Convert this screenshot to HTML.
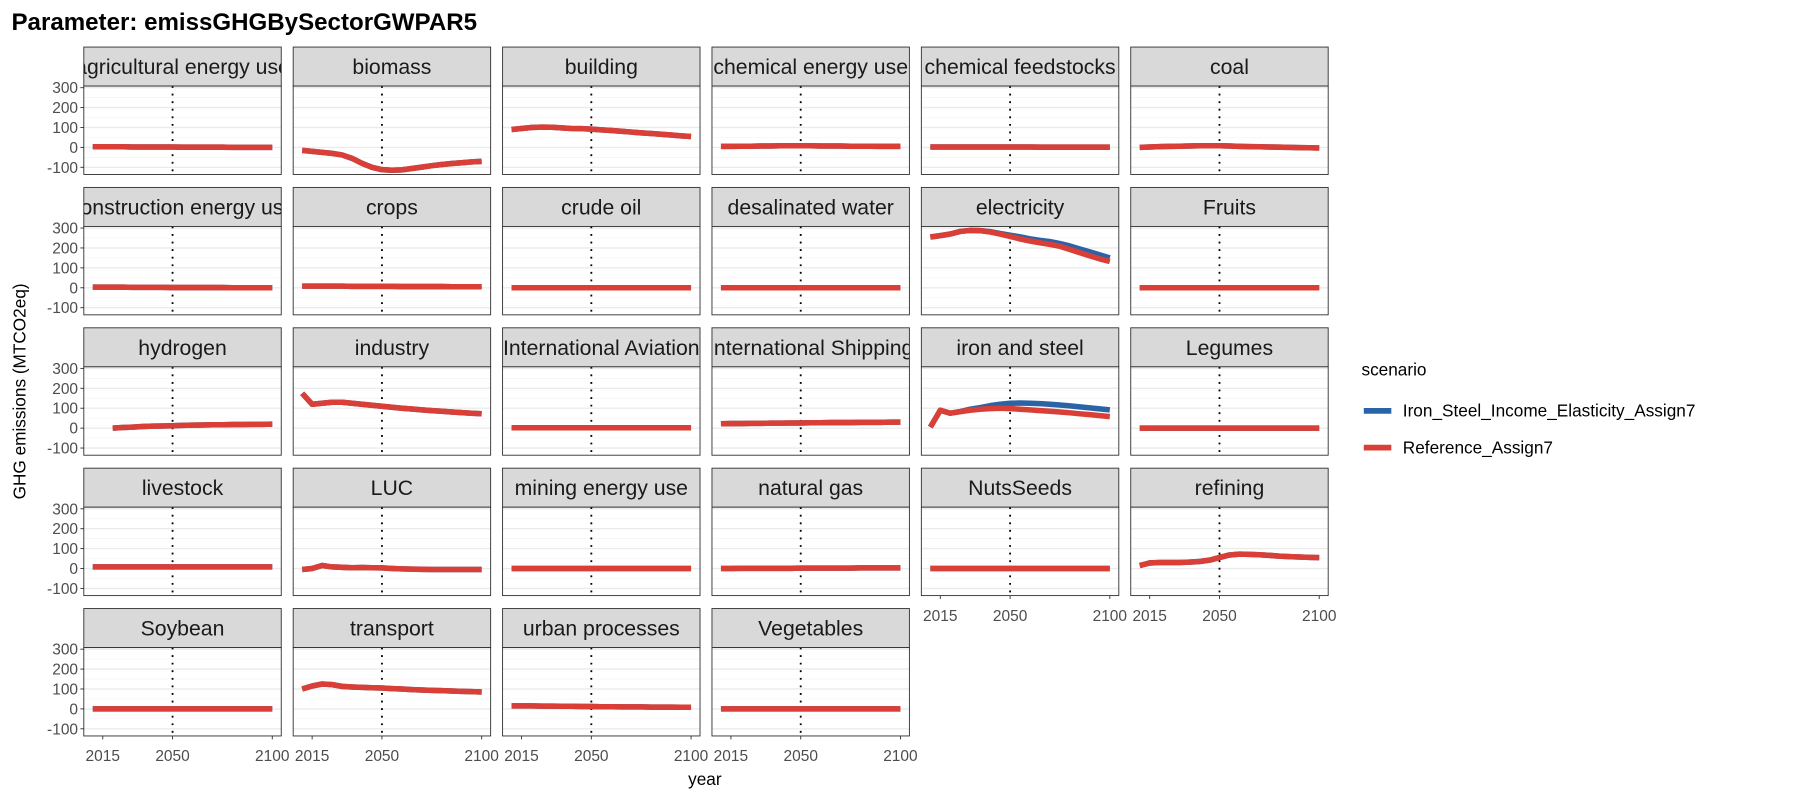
<!DOCTYPE html>
<html><head><meta charset="utf-8"><style>
html,body{margin:0;padding:0;background:#fff;}
svg{display:block;font-family:"Liberation Sans",sans-serif;}
</style></head><body>
<svg id="chart" width="1800" height="800" viewBox="0 0 1568 697" preserveAspectRatio="none" xmlns="http://www.w3.org/2000/svg">
<text x="10" y="26" font-size="21" font-weight="bold" fill="#000">Parameter: emissGHGBySectorGWPAR5</text>
<text transform="translate(22,341) rotate(-90)" text-anchor="middle" font-size="15" fill="#000">GHG emissions (MTCO2eq)</text>
<text x="614" y="684" text-anchor="middle" font-size="15" fill="#000">year</text>
<g>
<text x="1186" y="327" font-size="15" fill="#000">scenario</text>
<line x1="1188" x2="1212" y1="358" y2="358" stroke="#2b64a6" stroke-width="5"/>
<text x="1222" y="363" font-size="15" fill="#000">Iron_Steel_Income_Elasticity_Assign7</text>
<line x1="1188" x2="1212" y1="390" y2="390" stroke="#d93f36" stroke-width="5"/>
<text x="1222" y="395" font-size="15" fill="#000">Reference_Assign7</text>
</g>
<g id="panels"></g>
</svg>
<script>
const years = [2010,2015,2020,2025,2030,2035,2040,2045,2050,2055,2060,2065,2070,2075,2080,2085,2090,2095,2100];
const sectors = ["agricultural energy use","biomass","building","chemical energy use","chemical feedstocks","coal","construction energy use","crops","crude oil","desalinated water","electricity","Fruits","hydrogen","industry","International Aviation","International Shipping","iron and steel","Legumes","livestock","LUC","mining energy use","natural gas","NutsSeeds","refining","Soybean","transport","urban processes","Vegetables"];
const referenceValues = [
[3,3,3,3,2,2,2,2,2,1,1,1,1,1,0,0,0,0,0],
[-15,-20,-25,-30,-38,-55,-80,-100,-112,-115,-113,-106,-99,-92,-86,-81,-77,-73,-70],
[90,95,100,102,101,98,95,94,92,88,85,81,77,73,70,66,62,58,55],
[5,5,6,6,7,7,8,8,8,8,7,7,7,6,6,6,5,5,5],
[2,2,2,2,2,2,2,2,2,2,2,1,1,1,1,1,1,1,1],
[0,2,4,5,6,7,8,8,8,7,5,4,3,2,1,0,-1,-2,-3],
[3,3,3,3,2,2,2,2,1,1,1,1,1,1,0,0,0,0,0],
[8,8,8,8,8,7,7,7,7,7,6,6,6,6,6,5,5,5,5],
[0,0,0,0,0,0,0,0,0,0,0,0,0,0,0,0,0,0,0],
[0,0,0,0,0,0,0,0,0,0,0,0,0,0,0,0,0,0,0],
[255,262,270,283,288,287,280,270,258,245,235,226,218,208,192,176,160,145,132],
[0,0,0,0,0,0,0,0,0,0,0,0,0,0,0,0,0,0,0],
[null,null,0,3,5,8,10,11,12,14,15,16,17,17,18,18,19,19,20],
[175,120,125,130,130,125,120,115,110,105,100,96,92,88,85,81,78,75,72],
[2,2,2,2,2,2,2,2,2,2,2,2,2,2,2,2,2,2,2],
[22,23,23,24,24,25,25,26,26,27,27,28,28,28,29,29,29,30,30],
[5,90,75,83,90,95,98,100,98,95,92,88,85,81,77,72,68,63,58],
[0,0,0,0,0,0,0,0,0,0,0,0,0,0,0,0,0,0,0],
[8,8,8,8,8,8,8,8,8,8,8,8,8,8,8,8,8,8,8],
[-5,0,15,8,6,4,5,4,3,0,-2,-3,-4,-5,-5,-5,-5,-5,-5],
[0,0,0,0,0,0,0,0,0,0,0,0,0,0,0,0,0,0,0],
[0,0,1,1,1,1,1,1,2,2,2,2,2,2,3,3,3,3,3],
[0,0,0,0,0,0,0,0,0,0,0,0,0,0,0,0,0,0,0],
[15,28,30,30,30,32,35,42,55,68,72,71,69,66,62,60,58,56,55],
[0,0,0,0,0,0,0,0,0,0,0,0,0,0,0,0,0,0,0],
[100,115,125,122,113,110,108,106,105,102,100,97,95,93,92,90,88,87,85],
[15,15,15,14,14,13,13,12,12,11,11,10,10,10,9,9,9,8,8],
[0,0,0,0,0,0,0,0,0,0,0,0,0,0,0,0,0,0,0]
];
const ironSteelElectricity = [255,262,270,283,288,287,282,273,264,256,246,238,232,222,210,195,180,165,150];
const ironSteelIronAndSteel = [5,90,75,83,95,103,113,120,125,126,125,123,120,116,112,107,102,97,92];
const yTicks = [-100,0,100,200,300];
const xTicks = [2015,2050,2100];

const NS = "http://www.w3.org/2000/svg";
const g = document.getElementById('panels');
const colLeft = 73, colPitch = 182.4, panelW = 172;
const rowTop = 41, rowPitch = 122.3, stripH = 34, panelH = 77;
const xMin = 2005.5, xMax = 2104.5, yMin = -136, yMax = 308;
function mk(tag, attrs, parent){const e=document.createElementNS(NS,tag);for(const k in attrs)e.setAttribute(k,attrs[k]);parent.appendChild(e);return e;}

sectors.forEach((name, i) => {
  const r = Math.floor(i/6), c = i%6;
  const x0 = colLeft + c*colPitch, sy = rowTop + r*rowPitch, py = sy + stripH;
  const xs = v => x0 + (v - xMin)/(xMax - xMin)*panelW;
  const ys = v => py + (yMax - v)/(yMax - yMin)*panelH;
  const pg = mk('g', {}, g);
  
  
  const cp = mk('clipPath', {id:'cs'+i}, pg);
  mk('rect', {x:x0, y:sy, width:panelW, height:stripH}, cp);
  const cpp = mk('clipPath', {id:'cp'+i}, pg);
  mk('rect', {x:x0, y:py, width:panelW, height:panelH}, cpp);
  const strip = mk('rect', {x:x0, y:sy, width:panelW, height:stripH, fill:'#d9d9d9', stroke:'#333', 'stroke-width':0.8}, pg);
  
  
  const st = mk('text', {x:x0+panelW/2, y:sy+23.5, 'text-anchor':'middle', 'font-size':18.5, fill:'#1a1a1a', 'clip-path':'url(#cs'+i+')'}, pg);
  st.textContent = name;
  
  
  mk('rect', {x:x0, y:py, width:panelW, height:panelH, fill:'#fff'}, pg);
  [-50,50,150,250].forEach(v => mk('line', {x1:x0, x2:x0+panelW, y1:ys(v), y2:ys(v), stroke:'#f4f4f4', 'stroke-width':0.6}, pg));
  yTicks.forEach(v => mk('line', {x1:x0, x2:x0+panelW, y1:ys(v), y2:ys(v), stroke:'#ebebeb', 'stroke-width':1.2}, pg));
  const dl = mk('line', {x1:xs(2050), x2:xs(2050), y1:py, y2:py+panelH, stroke:'#000', 'stroke-width':1.6, 'stroke-dasharray':'1.6 5'}, pg);
  
  
  const drawSeries = (vals, color, nm) => {
    let d = '';
    vals.forEach((v, k) => { if (v === null) return; d += (d ? 'L' : 'M') + xs(years[k]).toFixed(2) + ',' + ys(v).toFixed(2); });
    const p = mk('path', {d:d, fill:'none', stroke:color, 'stroke-width':4.8, 'stroke-linejoin':'round', 'clip-path':'url(#cp'+i+')'}, pg);
    
    
  };
  let alt = referenceValues[i];
  if (name === 'electricity') alt = ironSteelElectricity;
  if (name === 'iron and steel') alt = ironSteelIronAndSteel;
  drawSeries(alt, '#2b64a6', 'iron-steel-scenario-line');
  drawSeries(referenceValues[i], '#d93f36', 'reference-scenario-line');
  mk('rect', {x:x0, y:py, width:panelW, height:panelH, fill:'none', stroke:'#333', 'stroke-width':0.8}, pg);
  if (c === 0) {
    yTicks.forEach(v => {
      mk('line', {x1:x0-3, x2:x0, y1:ys(v), y2:ys(v), stroke:'#333', 'stroke-width':0.8}, pg);
      const t = mk('text', {x:x0-5, y:ys(v)+4.8, 'text-anchor':'end', 'font-size':13.5, fill:'#4d4d4d'}, pg);
      t.textContent = v;
      
      
    });
  }
  const lastRow = (c <= 3) ? 4 : 3;
  if (r === lastRow) {
    xTicks.forEach(v => {
      mk('line', {x1:xs(v), x2:xs(v), y1:py+panelH, y2:py+panelH+3, stroke:'#333', 'stroke-width':0.8}, pg);
      const t = mk('text', {x:xs(v), y:py+panelH+22, 'text-anchor':'middle', 'font-size':13.5, fill:'#4d4d4d'}, pg);
      t.textContent = v;
      
      
    });
  }
});
</script>
</body></html>
